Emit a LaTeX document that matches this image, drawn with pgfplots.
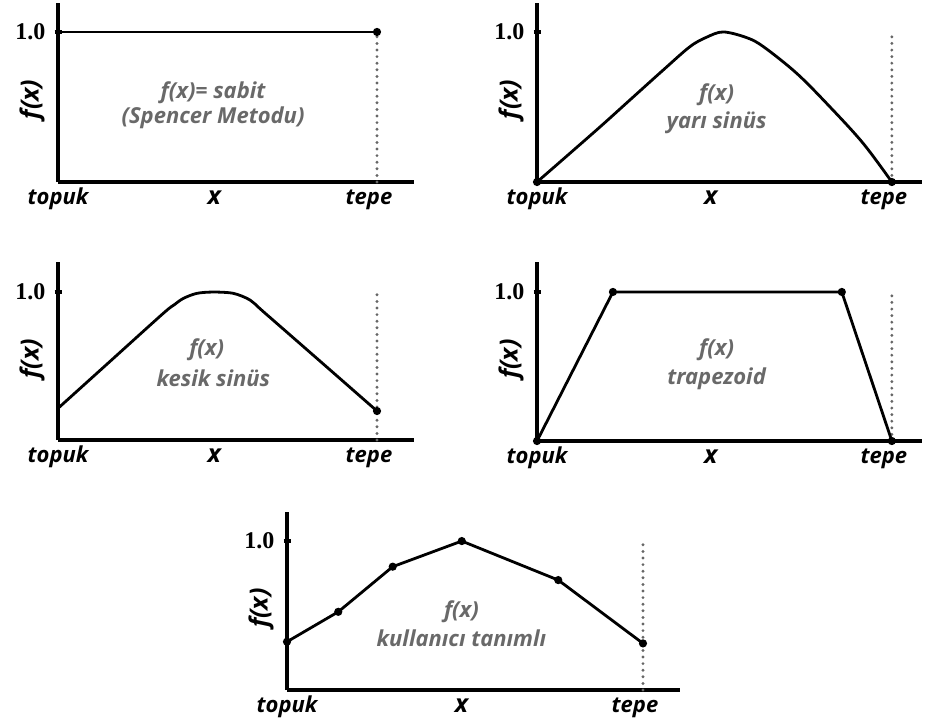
\documentclass[border=0pt]{standalone}
\usepackage{pgfplots}
\pgfplotsset{compat=1.18}
\usepackage{fontspec}
\setmainfont{Open Sans}
\newfontfamily\numfont{Liberation Serif}
\definecolor{txtgray}{RGB}{105,105,105}
\newcommand{\lab}{\fontsize{11}{13}\selectfont\bfseries\itshape}
\newcommand{\xlab}{\fontsize{12.5}{14}\selectfont\bfseries\itshape}
\newcommand{\midt}{\fontsize{11}{13}\selectfont\bfseries\itshape\color{txtgray}}
\pgfplotsset{
  panel/.style={
    scale only axis, axis lines=left,
    axis line style={line width=2pt,-},
    x axis line style={line width=2pt,-},
    y axis line style={line width=2pt,-},
    xmin=0, ymin=0, xtick=\empty,
    ytick={1}, yticklabels={{\numfont\fontsize{12}{14}\selectfont\bfseries 1.0}},
    major tick length=3.5pt, tick align=center,
    tick style={line width=2pt, black},
    yticklabel style={xshift=-1pt},
    clip=false, anchor=south west,
  },
  curve/.style={black, line width=1.4pt, mark=*, mark size=1.3pt},
}
\newcommand{\decor}{%
  \node[anchor=base, font=\lab] at (0,0) [yshift=-11pt] {topuk};
  \node[anchor=base, font=\lab] at (1,0) [yshift=-11pt, xshift=-4pt] {tepe};
  \node[anchor=base, font=\xlab] at (0.49,0) [yshift=-11pt] {x};
  \node[rotate=90, yshift=13pt, font=\fontsize{12.5}{14}\selectfont\bfseries\itshape] at (0,0.55) {f(x)};
  \draw[black!60, line width=1.6pt, line cap=round, dash pattern=on 0pt off 3.3pt] (1,0) -- (1,1);
}
\begin{document}
\begin{tikzpicture}
\path[use as bounding box] (0,0) rectangle (462.5pt,-362pt);

% Panel 1
\begin{axis}[panel, at={(29pt,-91pt)}, width=178pt, height=89.5pt, xmax=1.116, ymax=1.193]
\decor
\addplot[curve, mark=none] coordinates {(0,1) (1,1)};
\addplot[curve, only marks] coordinates {(1,1)};
\node[font=\midt] at (0.486,0.593) {f(x)= sabit};
\node[font=\midt] at (0.486,0.427) {(Spencer Metodu)};
\end{axis}

% Panel 2
\begin{axis}[panel, at={(268.5pt,-91pt)}, width=192.5pt, height=89.5pt, xmax=1.085, ymax=1.193]
\decor
\addplot[curve, mark=none, smooth, tension=0.55] coordinates {
(0,0) (0.168,0.347) (0.262,0.547) (0.356,0.747) (0.431,0.902) (0.478,0.965)
(0.525,1.0) (0.591,0.962) (0.638,0.902) (0.732,0.724) (0.825,0.502)
(0.919,0.258) (1,0)};
\addplot[curve, only marks] coordinates {(0,0) (1,0)};
\node[font=\midt] at (0.506,0.58) {f(x)};
\node[font=\midt] at (0.506,0.393) {yarı sinüs};
\end{axis}

% Panel 3
\begin{axis}[panel, at={(29pt,-220pt)}, width=178pt, height=89pt, xmax=1.116, ymax=1.203]
\decor
\addplot[curve, mark=none, smooth, tension=0.5] coordinates {
(0,0.214) (0.165,0.535) (0.330,0.856) (0.365,0.915) (0.393,0.957) (0.435,0.991) (0.487,1.0)
(0.550,0.991) (0.602,0.946) (0.644,0.867) (0.822,0.532) (1,0.196)};
\addplot[curve, only marks] coordinates {(1,0.196)};
\node[font=\midt] at (0.466,0.608) {f(x)};
\node[font=\midt] at (0.487,0.417) {kesik sinüs};
\end{axis}

% Panel 4
\begin{axis}[panel, at={(268.5pt,-220.5pt)}, width=192.5pt, height=89.5pt, xmax=1.085, ymax=1.201]
\decor
\addplot[curve] coordinates {(0,0) (0.214,1) (0.859,1) (1,0)};
\node[font=\midt] at (0.506,0.61) {f(x)};
\node[font=\midt] at (0.506,0.42) {trapezoid};
\end{axis}

% Panel 5
\begin{axis}[panel, at={(143.5pt,-345pt)}, width=196.5pt, height=89pt, xmax=1.104, ymax=1.195]
\decor
\addplot[curve] coordinates {(0,0.324) (0.144,0.525) (0.297,0.828) (0.491,1.0) (0.762,0.738) (1,0.313)};
\node[font=\midt] at (0.49,0.525) {f(x)};
\node[font=\midt] at (0.49,0.347) {kullanıcı tanımlı};
\end{axis}
\end{tikzpicture}
\end{document}
